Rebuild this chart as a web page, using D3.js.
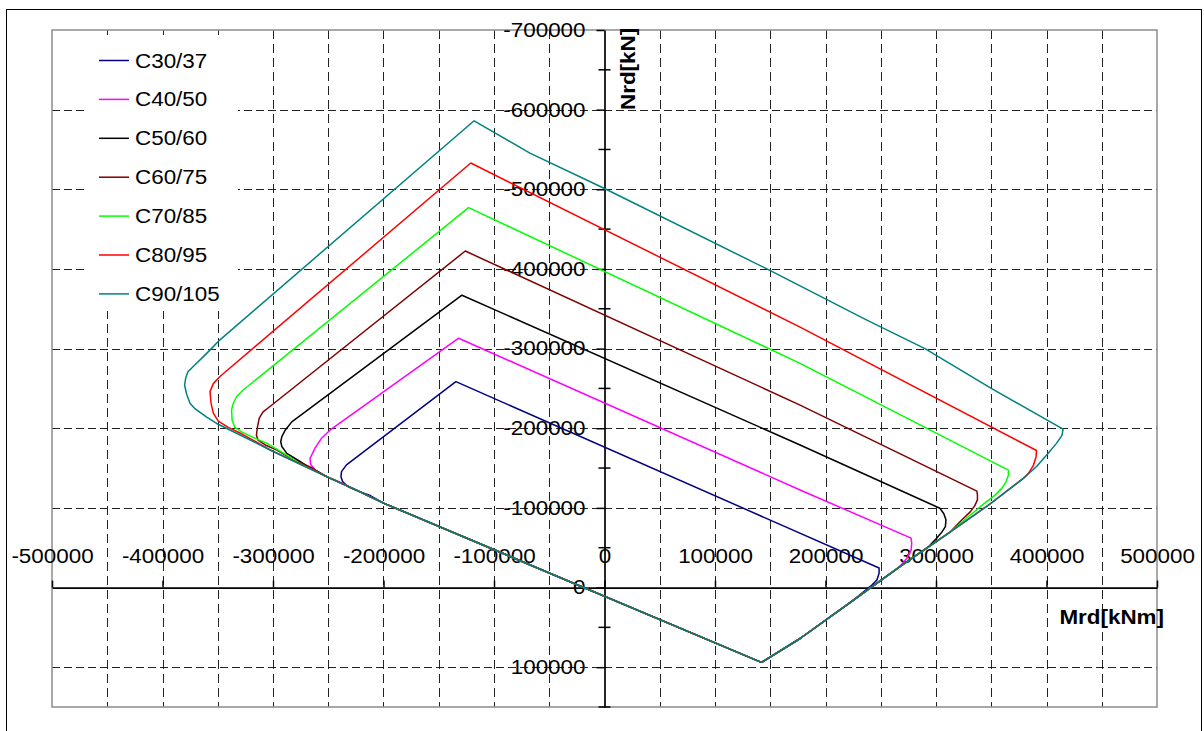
<!DOCTYPE html>
<html>
<head>
<meta charset="utf-8">
<script src="https://cdn.jsdelivr.net/npm/d3@7"></script>
<style>
    body { margin: 0; background: #ffffff; }
    svg text { font-family: "Liberation Sans", Arial, sans-serif; }
</style>
</head>
<body>
<div id="chart"></div>
<script>
//M-N interaction diagram

//Concrete grades and their line colours
const grades = ["C30/37", "C40/50", "C50/60", "C60/75", "C70/85", "C80/95", "C90/105"];
const gradeColors = ["#000080", "#ff00ff", "#000000", "#800000", "#00ff00", "#ff0000", "#008080"];

//Curves, [Mrd kNm, Nrd kN]
const c30_37 = [
    [142000, 94000], [177000, 64000], [225000, 16000], [233000, 7000], [242000, -3000], [246500, -9500],
    [248500, -18000], [248500, -24500], [-134500, -258500], [-224000, -164000], [-233500, -154000],
    [-238000, -145500], [-238500, -139000], [-237000, -133000], [-232000, -126500], [-223000, -121000],
    [-212000, -115500], [-200000, -106000], [142000, 94000]
];
const c40_50 = [
    [142000, 94000], [177000, 64000], [225000, 16000], [267000, -26000], [273500, -36500], [277500, -47000],
    [278000, -55500], [277500, -62000], [177000, -122500], [-132000, -313000], [-248500, -197500],
    [-256000, -187500], [-262000, -175000], [-266500, -162000], [-266000, -155000], [-262000, -147500],
    [-254500, -141000], [-245500, -136000], [-233500, -128500], [-224000, -122000], [-200000, -106000],
    [142000, 94000]
];
const c50_60 = [
    [142000, 94000], [177000, 64000], [225000, 16000], [267000, -26000], [293000, -51000], [299000, -59500],
    [305000, -69000], [308500, -76500], [309000, -85000], [307000, -93000], [303500, -99500],
    [177000, -179000], [-129000, -367000], [-283000, -208000], [-289000, -197500], [-292000, -189500],
    [-293000, -183000], [-292000, -177000], [-287500, -168500], [-280000, -162000], [-269500, -153000],
    [-251000, -139000], [-224000, -122000], [-200000, -106000], [142000, 94000]
];
const c60_75 = [
    [142000, 94000], [177000, 64000], [225000, 16000], [267000, -26000], [313000, -70000], [323500, -85000],
    [331000, -95000], [335000, -102500], [337500, -110000], [337500, -116000], [337000, -121000],
    [177000, -229000], [-126000, -422500], [-303000, -227000], [-309000, -220500], [-312500, -212500],
    [-314000, -202000], [-315000, -191500], [-313500, -185000], [-307000, -179000], [-296500, -172500],
    [-280000, -159500], [-264500, -150000], [-251000, -139000], [-224000, -122000], [-200000, -106000],
    [142000, 94000]
];
const c70_85 = [
    [142000, 94000], [177000, 64000], [225000, 16000], [267000, -26000], [313000, -70000], [344000, -106000],
    [353500, -116000], [359500, -124500], [363500, -133000], [365500, -141000], [365500, -147500],
    [177000, -281500], [-123000, -477000], [-327000, -248000], [-333000, -239500], [-336000, -231000],
    [-337500, -223000], [-337000, -210000], [-334500, -201000], [-328500, -195500], [-318000, -188500],
    [-305500, -181000], [-289000, -167500], [-275500, -155500], [-251000, -139000], [-224000, -122000],
    [-200000, -106000], [142000, 94000]
];
const c80_95 = [
    [142000, 94000], [177000, 64000], [225000, 16000], [267000, -26000], [313000, -70000], [349000, -105000],
    [364000, -121000], [379000, -137000], [383500, -143000], [388000, -153000], [390500, -164000],
    [391000, -172000], [177000, -327000], [-121000, -533000], [-348000, -265000], [-354000, -256000],
    [-357000, -246000], [-356000, -231000], [-354000, -219000], [-349500, -209000], [-340500, -201000],
    [-330000, -194000], [-318000, -185000], [-303000, -173000], [-251000, -139000], [-224000, -122000],
    [-200000, -106000], [142000, 94000]
];
const c90_105 = [
    [142000, 94000], [177000, 64000], [225000, 16000], [267000, -26000], [313000, -70000], [349000, -105000],
    [364000, -121000], [379000, -137000], [391000, -152000], [400000, -166000], [409000, -181000],
    [414000, -191000], [415000, -199000], [350000, -250000], [290000, -300000], [237000, -336000],
    [147000, -400000], [0, -501000], [-67500, -545500], [-118000, -586000], [-348000, -311000],
    [-360000, -294000], [-371000, -279000], [-377000, -271000], [-379000, -263000], [-380000, -254000],
    [-378000, -242000], [-375000, -231000], [-371000, -225000], [-360000, -214000], [-351000, -206000],
    [-303000, -173000], [-251000, -139000], [-224000, -122000], [-200000, -106000], [142000, 94000]
];

//Ticks and grid
const xTickValues = [-500000, -400000, -300000, -200000, -100000, 0, 100000, 200000, 300000, 400000, 500000];
const xTickLabels = ["-500000", "-400000", "-300000", "-200000", "-100000", "0", "100000", "200000", "300000", "400000", "500000"];
const yTickValues = [-700000, -600000, -500000, -400000, -300000, -200000, -100000, 0, 100000];
const yTickLabels = ["-700000", "-600000", "-500000", "-400000", "-300000", "-200000", "-100000", "0", "100000"];
const yMinorTicks = [-650000, -550000, -450000, -350000, -250000, -150000, -50000, 50000, 150000];
const xGridValues = [-450000, -400000, -350000, -300000, -250000, -200000, -150000, -100000, -50000,
    50000, 100000, 150000, 200000, 250000, 300000, 350000, 400000, 450000];
const yGridValues = [-600000, -500000, -400000, -300000, -200000, -100000, 100000];

//Chart dimensions
const width = 1204;
const height = 731;
const plot = {left: 52, right: 1157, top: 30, bottom: 707};
const fontSize = 20;
const textStretch = 1.12;

const series = [c30_37, c40_50, c50_60, c60_75, c70_85, c80_95, c90_105].map((pts, i) => (
    {name: grades[i], color: gradeColors[i], pts: pts}
));

//half pixel so 1px lines stay sharp
const crisp = v => Math.round(v) + 0.5;

let svg = d3.select("#chart")
    .append("svg")
    .attr("width", width)
    .attr("height", height);

svg.append("rect")
    .attr("width", "100%")
    .attr("height", "100%")
    .attr("fill", "#ffffff");

//outer frame
svg.append("rect")
    .attr("x", 6.5)
    .attr("y", 9.5)
    .attr("width", 1195)
    .attr("height", 740)
    .attr("fill", "none")
    .attr("stroke", "#000000")
    .attr("stroke-width", 1);

let x = d3.scaleLinear()
    .domain([-500000, 500000])
    .range([plot.left, plot.right]);

let y = d3.scaleLinear()
    .domain([-700000, 150000])
    .range([plot.top, plot.bottom]);

//Grid
svg.append("g")
    .selectAll("line")
    .data(xGridValues)
    .join("line")
    .attr("x1", d => crisp(x(d)))
    .attr("x2", d => crisp(x(d)))
    .attr("y1", plot.top)
    .attr("y2", plot.bottom)
    .attr("stroke", "#222222")
    .attr("stroke-width", 1)
    .attr("stroke-dasharray", "9,5");

svg.append("g")
    .selectAll("line")
    .data(yGridValues)
    .join("line")
    .attr("x1", plot.left)
    .attr("x2", plot.right)
    .attr("y1", d => crisp(y(d)))
    .attr("y2", d => crisp(y(d)))
    .attr("stroke", "#222222")
    .attr("stroke-width", 1)
    .attr("stroke-dasharray", "8,4");

//white legend background hides the grid
svg.append("rect")
    .attr("x", 85)
    .attr("y", 35)
    .attr("width", 153)
    .attr("height", 276)
    .attr("fill", "#ffffff");

//plot area border
svg.append("rect")
    .attr("x", plot.left)
    .attr("y", plot.top)
    .attr("width", plot.right - plot.left)
    .attr("height", plot.bottom - plot.top)
    .attr("fill", "none")
    .attr("stroke", "#8c8c8c")
    .attr("stroke-width", 1.5);

//X Axis (through N = 0)
let gx = svg.append("g")
    .attr("transform", `translate(0,${y(0)})`)
    .call(d3.axisTop(x)
        .tickValues(xTickValues)
        .tickFormat((d, i) => xTickLabels[i])
        .tickSizeInner(7)
        .tickSizeOuter(0)
        .tickPadding(18));

//Y Axis (through M = 0)
let gy = svg.append("g")
    .attr("transform", `translate(${x(0)},0)`)
    .call(d3.axisLeft(y)
        .tickValues(yTickValues)
        .tickFormat((d, i) => yTickLabels[i])
        .tickSizeInner(8)
        .tickSizeOuter(0)
        .tickPadding(11));

[gx, gy].forEach(g => {
    g.select(".domain").attr("stroke", "#000000").attr("stroke-width", 1.7);
    g.selectAll(".tick line").attr("stroke", "#000000").attr("stroke-width", 1.5);
    g.selectAll(".tick text")
        .attr("fill", "#000000")
        .style("font-size", fontSize + "px")
        .style("font-family", "'Liberation Sans', Arial, sans-serif");
});

//minor ticks crossing the Y axis
svg.append("g")
    .selectAll("line")
    .data(yMinorTicks)
    .join("line")
    .attr("x1", x(0) - 6)
    .attr("x2", x(0) + 6)
    .attr("y1", d => y(d))
    .attr("y2", d => y(d))
    .attr("stroke", "#000000")
    .attr("stroke-width", 1.5);

//Labels
svg.append("text")
    .attr("x", 1164)
    .attr("y", 624)
    .style("text-anchor", "end")
    .style("font-size", fontSize + "px")
    .style("font-weight", "bold")
    .text("Mrd[kNm]");

svg.append("text")
    .attr("transform", "translate(635,110) rotate(-90)")
    .style("text-anchor", "start")
    .style("font-size", fontSize + "px")
    .style("font-weight", "bold")
    .text("Nrd[kN]");

//Draw curves
let line = d3.line()
    .x(d => x(d[0]))
    .y(d => y(d[1]));

svg.append("g")
    .selectAll("path")
    .data(series)
    .join("path")
    .attr("d", d => line(d.pts))
    .attr("fill", "none")
    .attr("stroke", d => d.color)
    .attr("stroke-width", 1.5)
    .attr("stroke-linejoin", "round");

//Legend
let legend = svg.append("g")
    .selectAll("g")
    .data(series)
    .join("g")
    .attr("transform", (d, i) => `translate(0,${60.5 + i * 38.9})`);

legend.append("line")
    .attr("x1", 99)
    .attr("x2", 129)
    .attr("stroke", d => d.color)
    .attr("stroke-width", 1.5);

legend.append("text")
    .attr("x", 135)
    .attr("y", 7)
    .style("font-size", fontSize + "px")
    .attr("fill", "#000000")
    .text(d => d.name);

//the original lettering is a little wider than Arial
svg.selectAll("text").each(function () {
    let w = this.getComputedTextLength();
    d3.select(this)
        .attr("textLength", w * textStretch)
        .attr("lengthAdjust", "spacingAndGlyphs");
});
</script>
</body>
</html>
